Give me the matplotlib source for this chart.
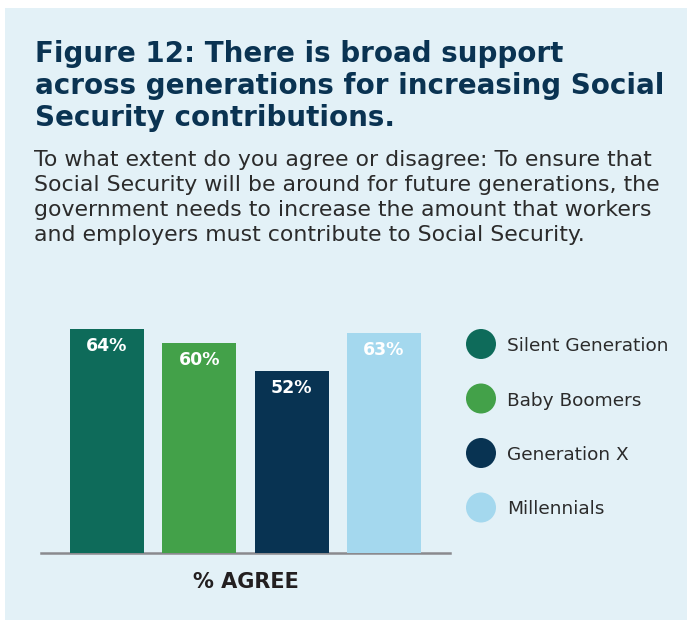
import matplotlib
matplotlib.use("Agg")
import matplotlib.pyplot as plt
from matplotlib.patches import Rectangle, Circle

# --- data -------------------------------------------------------------
generations = ["Silent Generation", "Baby Boomers", "Generation X", "Millennials"]
agree_pct = [64, 60, 52, 63]
bar_colors = ["#0e6b5a", "#43a149", "#083352", "#a4d8ee"]
axis_label = "% AGREE"

title_lines = [
    "Figure 12: There is broad support",
    "across generations for increasing Social",
    "Security contributions.",
]
subtitle_lines = [
    "To what extent do you agree or disagree: To ensure that",
    "Social Security will be around for future generations, the",
    "government needs to increase the amount that workers",
    "and employers must contribute to Social Security.",
]

# --- figure -----------------------------------------------------------
W, H = 687, 620
DPI = 100
fig = plt.figure(figsize=(W / DPI, H / DPI), dpi=DPI, facecolor="white")

# full-figure canvas in pixel units (origin top-left)
bg = fig.add_axes([0, 0, 1, 1], zorder=0)
bg.set_xlim(0, W)
bg.set_ylim(H, 0)
bg.axis("off")

PANEL = "#e3f1f7"
NAVY = "#0a3352"
TEXT = "#2b2b2b"

bg.add_patch(Rectangle((5, 8), W - 5, H - 8, facecolor=PANEL, edgecolor="none"))

renderer = fig.canvas.get_renderer()


def fit_size(text, family, weight, target_px, start=20):
    t = bg.text(0, 0, text, fontsize=start, family=family, fontweight=weight)
    w = t.get_window_extent(renderer).width
    t.remove()
    return start * target_px / w


TITLE_FONT = "DejaVu Sans"
BODY_FONT = "DejaVu Sans"

# title
tsize = fit_size(title_lines[1], TITLE_FONT, "bold", 630)
for line, base in zip(title_lines, [62, 94, 126]):
    bg.text(35, base, line, fontsize=tsize, family=TITLE_FONT,
            fontweight="bold", color=NAVY, va="baseline", ha="left")

# question text
ssize = fit_size(subtitle_lines[2], BODY_FONT, "normal", 616)
for line, base in zip(subtitle_lines, [166, 191, 216, 241]):
    bg.text(34, base, line, fontsize=ssize, family=BODY_FONT,
            color=TEXT, va="baseline", ha="left")

# legend
lsize = fit_size(generations[0], BODY_FONT, "normal", 161)
for i, (name, col) in enumerate(zip(generations, bar_colors)):
    cy = 344 + i * 54.5
    bg.add_patch(Circle((481, cy), 15, facecolor=col, edgecolor="none"))
    bg.text(507, cy, name, fontsize=lsize, family=BODY_FONT,
            color=TEXT, va="center_baseline", ha="left")

# --- bar chart --------------------------------------------------------
L, R, B, T = 41, 450, 553, 300
ax = fig.add_axes([L / W, 1 - B / H, (R - L) / W, (B - T) / H], zorder=1)
ax.patch.set_alpha(0)
x = list(range(len(agree_pct)))
ax.bar(x, agree_pct, width=0.8, color=bar_colors, zorder=3)
ax.set_xlim(-0.715, 3.715)
ax.set_ylim(0, (B - T) / 3.5)
for s in ["top", "right", "left"]:
    ax.spines[s].set_visible(False)
ax.spines["bottom"].set_color("#8a8a8e")
ax.spines["bottom"].set_linewidth(1.8)
ax.spines["bottom"].set_zorder(2)
ax.set_xticks([])
ax.set_yticks([])

for xi, v in zip(x, agree_pct):
    ax.annotate(f"{v}%", (xi, v), xytext=(0, -8), textcoords="offset pixels",
                ha="center", va="top", fontsize=12.5, fontweight="bold",
                family=BODY_FONT, color="white", zorder=4)

ax.set_xlabel(axis_label, fontsize=15, fontweight="bold", family=BODY_FONT,
              color="#231f20", labelpad=14)

fig.savefig("out.png", dpi=DPI, facecolor="white")
